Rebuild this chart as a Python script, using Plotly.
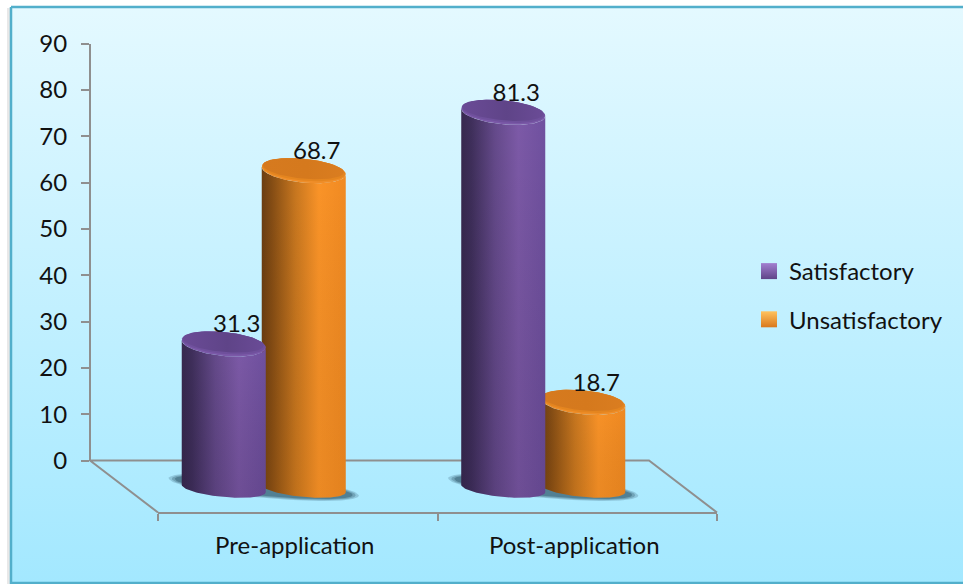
import numpy as np
import plotly.graph_objects as go

# ---- chart data ----
categories = ["Pre-application", "Post-application"]
series_names = ["Satisfactory", "Unsatisfactory"]
satisfactory = [31.3, 81.3]
unsatisfactory = [68.7, 18.7]
value_ticks = [0, 10, 20, 30, 40, 50, 60, 70, 80, 90]

W, H = 963, 584
FONT = "Lato"
TEXT_SIZE = 24
TEXT_COLOR = "#111111"
AXIS_GREY = "#8f8f8f"

# Pixel geometry of the drawing area and the pseudo-3D floor.
Y0_PX, Y90_PX = 460.5, 43.5
PX_PER_UNIT = (Y0_PX - Y90_PX) / 90
X_LEFT_PX, X_RIGHT_PX = 158.0, 717.0
PX_PER_CAT = (X_RIGHT_PX - X_LEFT_PX) / 2
CAT0_PX = X_LEFT_PX + PX_PER_CAT / 2


def px_x(px):
    """Horizontal pixel to category units on the mark axis."""
    return (px - CAT0_PX) / PX_PER_CAT


def px_y(px):
    """Vertical pixel to value units on the mark axis."""
    return (Y0_PX - px) / PX_PER_UNIT


def dx(px):
    return px / PX_PER_CAT


def dy(px):
    return px / PX_PER_UNIT


FLOOR_FRONT = px_y(512.5)
BAR_BASE = px_y(488.5)
DEPTH_SHIFT = dx(-34.0)
BAR_OFFSET = dx(40.0)
RADIUS = dx(42.0)
RY_TOP = dy(12.0)
RY_BASE = dy(8.5)
TILT = -0.09 * PX_PER_CAT / PX_PER_UNIT  # value units per category unit

theta = np.linspace(0, 2 * np.pi, 121)
half = np.linspace(0, np.pi, 61)


def ellipse(cx, cy, rx, ry, angle=theta):
    ex = rx * np.cos(angle)
    return cx + ex, cy - ry * np.sin(angle) + TILT * ex


def cylinder_side(cx, top):
    # Front edge of the base, then back along the back rim of the top.
    bx, by = ellipse(cx, BAR_BASE, RADIUS, RY_BASE, half)
    tx, ty = ellipse(cx, top, RADIUS, RY_TOP, half[::-1])
    return np.r_[bx, tx, bx[0]], np.r_[by, ty, by[0]]


STYLE = {
    "Satisfactory": {
        "side": [[0, "#38294f"], [0.12, "#3f2f5b"], [0.4, "#654a8b"], [0.68, "#7d5aa8"], [1, "#7051a0"]],
        "shade": "rgba(30,15,50,0.16)",
        "cap": [[0, "#6a4b96"], [0.55, "#5f4488"], [1, "#6a4b96"]],
        "bevel": "#6f509c",
        "rim": "#7b59a8",
        "swatch": "#5f4488",
        "swatch_hi": "#a27fd0",
    },
    "Unsatisfactory": {
        "side": [[0, "#6b3e12"], [0.12, "#854d14"], [0.4, "#c8771f"], [0.68, "#fb9428"], [1, "#f28b22"]],
        "shade": "rgba(120,60,0,0.12)",
        "cap": [[0, "#d67a1f"], [0.55, "#d5791d"], [1, "#da7d20"]],
        "bevel": "#e4851f",
        "rim": "#ef8e29",
        "swatch": "#d9781c",
        "swatch_hi": "#ffc35e",
    },
}

fig = go.Figure()

# Soft shadow along the left of the panel.
fig.add_trace(go.Scatter(
    x=[px_x(8.5), px_x(8.5)], y=[px_y(8), px_y(H)], mode="lines",
    line=dict(color="rgba(0,0,0,0.09)", width=3),
    xaxis="x", yaxis="y", showlegend=False, hoverinfo="skip",
))

# Panel with its vertical wash and teal frame.
fig.add_trace(go.Scatter(
    x=[px_x(11), px_x(W + 6), px_x(W + 6), px_x(11), px_x(11)],
    y=[px_y(7), px_y(7), px_y(583), px_y(583), px_y(7)],
    mode="lines", fill="toself",
    fillgradient=dict(type="vertical", colorscale=[[0, "#a3e8ff"], [1, "#e4f9ff"]]),
    line=dict(color="#52afcb", width=2.5),
    xaxis="x", yaxis="y", showlegend=False, hoverinfo="skip",
))

# Floor outline: back edge and the two receding sides.
floor_x = [px_x(X_LEFT_PX), dx(-68) + px_x(X_LEFT_PX), dx(-68) + px_x(X_RIGHT_PX), px_x(X_RIGHT_PX)]
floor_y = [FLOOR_FRONT, 0, 0, FLOOR_FRONT]
fig.add_trace(go.Scatter(
    x=floor_x, y=floor_y, mode="lines",
    line=dict(color=AXIS_GREY, width=2),
    xaxis="x3", yaxis="y3", showlegend=False, hoverinfo="skip",
))

group_centres = np.arange(len(categories)) + DEPTH_SHIFT


def add_shadow(cx_left, cx_right):
    # Stacked translucent ellipses give the contact shadow a soft edge.
    for grow_x, grow_y, alpha in ((13, 2.5, 0.22), (10, 1.5, 0.28), (7, 0.5, 0.4)):
        sx, sy = ellipse((cx_left + cx_right) / 2, BAR_BASE + dy(1.5),
                         (cx_right - cx_left) / 2 + RADIUS + dx(grow_x), RY_BASE + dy(grow_y))
        fig.add_trace(go.Scatter(
            x=sx, y=sy, mode="lines", fill="toself", line=dict(width=0),
            fillcolor=f"rgba(35,75,95,{alpha})",
            xaxis="x3", yaxis="y3", showlegend=False, hoverinfo="skip",
        ))


def add_cylinder(name, cx, value):
    st = STYLE[name]
    top = value + px_y(489.0)
    sx, sy = cylinder_side(cx, top)
    fig.add_trace(go.Scatter(
        x=sx, y=sy, mode="lines", fill="toself", line=dict(width=0),
        fillgradient=dict(type="horizontal", colorscale=st["side"]),
        xaxis="x3", yaxis="y3", showlegend=False, hoverinfo="skip",
    ))
    # Darkening towards the foot of the cylinder.
    fig.add_trace(go.Scatter(
        x=sx, y=sy, mode="lines", fill="toself", line=dict(width=0),
        fillgradient=dict(type="vertical", colorscale=[[0, st["shade"]], [1, "rgba(0,0,0,0)"]]),
        xaxis="x3", yaxis="y3", showlegend=False, hoverinfo="skip",
    ))
    # Cap: lit front rim, bevel and the flat top, all sharing the back edge.
    rx, ry = ellipse(cx, top, RADIUS, RY_TOP)
    fig.add_trace(go.Scatter(
        x=rx, y=ry, mode="lines", fill="toself", line=dict(width=0),
        fillcolor=st["rim"], xaxis="x3", yaxis="y3", showlegend=False, hoverinfo="skip",
    ))
    bx, by = ellipse(cx, top + dy(1.0), RADIUS - dx(0.5), RY_TOP - dy(1.0))
    fig.add_trace(go.Scatter(
        x=bx, y=by, mode="lines", fill="toself", line=dict(width=0),
        fillcolor=st["bevel"], xaxis="x3", yaxis="y3", showlegend=False, hoverinfo="skip",
    ))
    ix, iy = ellipse(cx - dx(0.5), top + dy(2.0), RADIUS - dx(1.5), RY_TOP - dy(2.0))
    fig.add_trace(go.Scatter(
        x=ix, y=iy, mode="lines", fill="toself", line=dict(width=0),
        fillgradient=dict(type="horizontal", colorscale=st["cap"]),
        xaxis="x3", yaxis="y3", showlegend=False, hoverinfo="skip",
    ))


for i, centre in enumerate(group_centres):
    add_shadow(centre - BAR_OFFSET, centre + BAR_OFFSET)
    # The second series stands behind the first one where they overlap.
    add_cylinder(series_names[1], centre + BAR_OFFSET, unsatisfactory[i])
    add_cylinder(series_names[0], centre - BAR_OFFSET, satisfactory[i])

# Value labels sit just above and to the right of each cap.
label_x = []
label_y = []
label_text = []
for i, centre in enumerate(group_centres):
    for sign, vals in ((-1, satisfactory), (1, unsatisfactory)):
        label_x.append(centre + sign * BAR_OFFSET + dx(13))
        label_y.append(vals[i] + px_y(489.0) + dy(17.5))
        label_text.append(str(vals[i]))
fig.add_trace(go.Scatter(
    x=label_x, y=label_y, text=label_text, mode="text",
    textposition="middle center",
    textfont=dict(family=FONT, size=TEXT_SIZE, color=TEXT_COLOR),
    xaxis="x3", yaxis="y3", showlegend=False, hoverinfo="skip",
))

# Legend entries.
for name in series_names:
    fig.add_trace(go.Scatter(
        x=[None], y=[None], mode="markers", name=name, legendgroup=name,
        marker=dict(symbol="square", size=16, color=STYLE[name]["swatch_hi"],
                    line=dict(width=0),
                    gradient=dict(type="vertical", color=STYLE[name]["swatch"])),
        xaxis="x3", yaxis="y3",
    ))

# Ties the visible axes to their own subplot layer.
fig.add_trace(go.Scatter(x=[None], y=[None], xaxis="x2", yaxis="y2", showlegend=False, hoverinfo="skip"))

hidden = dict(visible=False, fixedrange=True)
fig.update_layout(
    template="none",
    width=W, height=H, autosize=False,
    margin=dict(l=0, r=0, t=0, b=0),
    paper_bgcolor="white", plot_bgcolor="rgba(0,0,0,0)",
    font=dict(family=FONT, size=TEXT_SIZE, color=TEXT_COLOR),
    showlegend=True,
    legend=dict(
        x=749 / W, y=1 - 249 / H, xanchor="left", yanchor="top",
        bgcolor="rgba(0,0,0,0)", borderwidth=0, traceorder="grouped", tracegroupgap=14,
        itemwidth=30, font=dict(family=FONT, size=TEXT_SIZE, color=TEXT_COLOR),
    ),
    xaxis=dict(domain=[0, 1], range=[px_x(0), px_x(W)], **hidden),
    yaxis=dict(domain=[0, 1], range=[px_y(H), px_y(0)], **hidden),
    xaxis2=dict(
        domain=[X_LEFT_PX / W, X_RIGHT_PX / W], range=[-0.5, 1.5], anchor="free",
        position=1 - 512.5 / H, showline=True, linecolor=AXIS_GREY, linewidth=2,
        tickmode="array", tickvals=[0, 1], ticktext=categories, ticks="",
        minor=dict(tickmode="array", tickvals=[-0.5, 0.5, 1.5], ticks="outside",
                   ticklen=7, tickwidth=2, tickcolor=AXIS_GREY, showgrid=False),
        showgrid=False, zeroline=False, ticklabelstandoff=12, ticklabelshift=-3,
        tickfont=dict(family=FONT, size=TEXT_SIZE, color=TEXT_COLOR), fixedrange=True,
    ),
    yaxis2=dict(
        domain=[1 - Y0_PX / H, 1 - Y90_PX / H], range=[0, 90], anchor="free",
        position=90 / W, showline=True, linecolor=AXIS_GREY, linewidth=2,
        tickmode="array", tickvals=value_ticks, ticks="outside", ticklen=8,
        tickwidth=2, tickcolor=AXIS_GREY, showgrid=False, zeroline=False,
        ticklabelstandoff=9,
        tickfont=dict(family=FONT, size=TEXT_SIZE, color=TEXT_COLOR), fixedrange=True,
    ),
    xaxis3=dict(domain=[0, 1], range=[px_x(0), px_x(W)], anchor="y3", **hidden),
    yaxis3=dict(domain=[0, 1], range=[px_y(H), px_y(0)], anchor="x3", **hidden),
)

fig.write_html("out.html", config=dict(displayModeBar=False))
